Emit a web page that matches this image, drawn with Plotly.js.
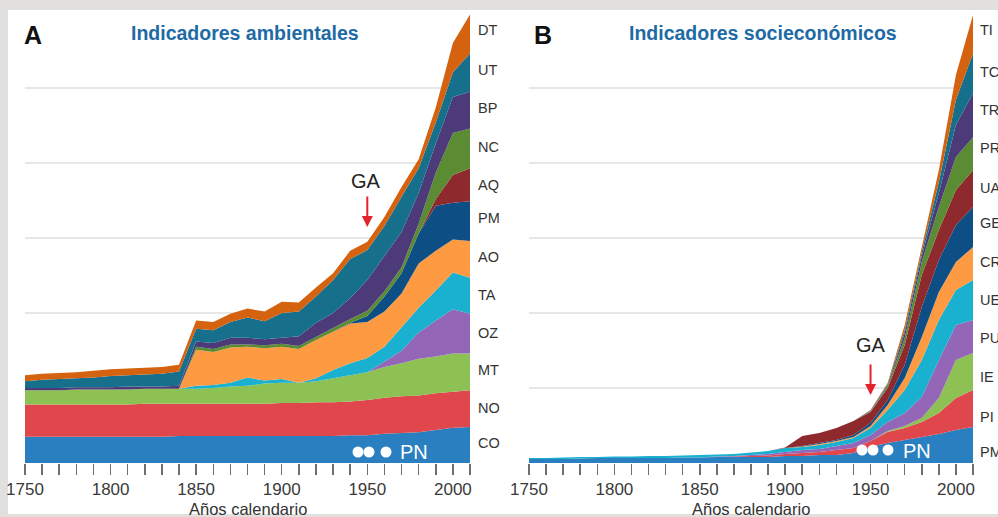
<!DOCTYPE html>
<html><head><meta charset="utf-8">
<script src="https://cdn.plot.ly/plotly-3.0.1.min.js"></script>
<style>html,body{margin:0;padding:0;background:#e2e0de;}#chart{width:998px;height:517px;}</style>
</head><body><div id="chart"></div>
<script>
// ---------- DATA ----------
const years = [1750,1760,1770,1780,1790,1800,1810,1820,1830,1840,1850,1860,1870,1880,1890,1900,1910,1920,1930,1940,1950,1960,1970,1980,1990,2000,2010];
const tickYears = [1750,1760,1770,1780,1790,1800,1810,1820,1830,1840,1850,1860,1870,1880,1890,1900,1910,1920,1930,1940,1950,1960,1970,1980,1990,2000,2010];
const tickLabels = ['1750','','','','','1800','','','','','1850','','','','','1900','','','','','1950','','','','','2000',''];

// Panel A: Indicadores ambientales (stacked, bottom to top)
const namesA = ['CO','NO','MT','OZ','TA','AO','PM','AQ','NC','BP','UT','DT'];
const A_CO = [0.35,0.35,0.35,0.35,0.35,0.35,0.35,0.35,0.35,0.36,0.36,0.36,0.36,0.36,0.36,0.36,0.36,0.36,0.36,0.37,0.37,0.39,0.40,0.41,0.44,0.47,0.48];
const A_NO = [0.43,0.43,0.43,0.43,0.43,0.43,0.43,0.44,0.44,0.43,0.43,0.43,0.43,0.43,0.43,0.44,0.44,0.45,0.45,0.45,0.47,0.48,0.49,0.49,0.49,0.48,0.49];
const A_MT = [0.19,0.19,0.19,0.20,0.20,0.20,0.20,0.20,0.20,0.20,0.20,0.21,0.23,0.24,0.27,0.27,0.27,0.28,0.32,0.35,0.37,0.41,0.44,0.49,0.49,0.51,0.49];
const A_OZ = [0,0,0,0,0,0,0,0,0,0,0,0,0,0,0,0,0,0,0,0,0,0.07,0.17,0.35,0.48,0.59,0.53];
const A_TA = [0,0,0,0,0,0,0,0,0,0,0.04,0.04,0.05,0.11,0.04,0.05,0,0.04,0.11,0.16,0.19,0.20,0.31,0.33,0.40,0.49,0.48];
const A_AO = [0,0,0,0,0,0,0,0,0,0,0.48,0.44,0.47,0.41,0.43,0.43,0.45,0.51,0.51,0.53,0.48,0.47,0.45,0.59,0.53,0.44,0.49];
const A_PM = [0,0,0,0,0,0,0,0,0,0,0,0,0,0,0,0,0,0,0,0.01,0.08,0.20,0.27,0.40,0.60,0.49,0.53];
const A_AQ = [0,0,0,0,0,0,0,0,0,0,0,0,0,0,0,0,0,0,0,0,0,0,0,0,0.09,0.37,0.44];
const A_NC = [0,0,0,0,0,0,0,0,0,0,0.04,0.04,0.04,0.03,0.04,0.04,0.04,0.04,0.05,0.05,0.07,0.07,0.08,0.13,0.35,0.56,0.53];
const A_BP = [0.03,0.03,0.03,0.03,0.03,0.03,0.04,0.03,0.03,0.04,0.07,0.08,0.09,0.09,0.08,0.08,0.13,0.19,0.20,0.28,0.41,0.47,0.47,0.41,0.39,0.48,0.49];
const A_UT = [0.09,0.11,0.12,0.12,0.13,0.15,0.15,0.16,0.17,0.19,0.17,0.17,0.21,0.27,0.24,0.33,0.33,0.35,0.44,0.52,0.40,0.40,0.47,0.33,0.28,0.33,0.51];
const A_DT = [0.08,0.08,0.08,0.08,0.09,0.09,0.09,0.09,0.09,0.09,0.11,0.11,0.11,0.12,0.13,0.15,0.12,0.12,0.09,0.11,0.11,0.12,0.13,0.12,0.20,0.39,0.52];

// Panel B: Indicadores socioeconómicos (stacked, bottom to top)
const namesB = ['PM','PI','IE','PU','UE','CR','GE','UA','PR','TR','TC','TI'];
const B_PM = [0.053,0.053,0.053,0.06,0.067,0.067,0.067,0.067,0.067,0.073,0.073,0.08,0.08,0.08,0.08,0.093,0.093,0.107,0.107,0.133,0.213,0.267,0.307,0.347,0.387,0.44,0.48];
const B_PI = [0,0,0,0,0,0,0,0,0,0,0,0,0.007,0.013,0.02,0.027,0.04,0.04,0.067,0.067,0.08,0.147,0.16,0.2,0.28,0.427,0.493];
const B_IE = [0,0,0,0,0,0,0,0,0,0,0,0,0,0,0,0,0,0,0,0,0,0.013,0.027,0.053,0.2,0.507,0.493];
const B_PU = [0,0,0,0,0,0,0,0,0,0,0,0.007,0.007,0.013,0.02,0.027,0.04,0.04,0.053,0.067,0.08,0.12,0.173,0.28,0.507,0.467,0.44];
const B_UE = [0.013,0.013,0.02,0.02,0.013,0.02,0.02,0.027,0.027,0.027,0.033,0.027,0.027,0.033,0.04,0.053,0.04,0.053,0.053,0.067,0.093,0.16,0.307,0.493,0.533,0.467,0.533];
const B_CR = [0,0,0,0,0,0,0,0,0,0,0,0,0,0,0,0,0.007,0.013,0.013,0.013,0.027,0.067,0.16,0.307,0.373,0.373,0.44];
const B_GE = [0,0,0,0,0,0,0,0,0,0,0,0,0,0,0,0,0.007,0.013,0.013,0.027,0.04,0.067,0.173,0.4,0.427,0.493,0.533];
const B_UA = [0,0,0,0,0,0,0,0,0,0,0,0,0,0,0,0.007,0.133,0.133,0.16,0.187,0.147,0.16,0.267,0.427,0.4,0.467,0.493];
const B_PR = [0,0,0,0,0,0,0,0,0,0,0,0,0,0,0,0,0,0,0,0,0.007,0.027,0.093,0.173,0.307,0.44,0.44];
const B_TR = [0,0,0,0,0,0,0,0,0,0,0,0,0,0,0,0,0,0,0,0,0.007,0.013,0.067,0.08,0.187,0.427,0.587];
const B_TC = [0,0,0,0,0,0,0,0,0,0,0,0,0,0,0,0,0,0,0,0,0.007,0.013,0.04,0.053,0.147,0.333,0.533];
const B_TI = [0,0,0,0,0,0,0,0,0,0,0,0,0,0,0,0,0,0,0,0,0.007,0.013,0.067,0.067,0.16,0.333,0.507];

// ---------- STYLE ----------
const colors = ['#2a7fc1','#e0474c','#8dc153','#9466b8','#1ab0d0','#fd9a42','#0d4f85','#8e2a2e','#5b8b32','#4c3b78','#16708c','#d4620f'];
const seriesA = [A_CO,A_NO,A_MT,A_OZ,A_TA,A_AO,A_PM,A_AQ,A_NC,A_BP,A_UT,A_DT];
const seriesB = [B_PM,B_PI,B_IE,B_PU,B_UE,B_CR,B_GE,B_UA,B_PR,B_TR,B_TC,B_TI];
const FONT = 'Liberation Sans, Arial, Helvetica, sans-serif';
const W = 998, H = 517;
const PX = x => x / W, PY = y => 1 - y / H;

const traces = [];
seriesA.forEach((v,i) => traces.push({type:'scatter', x:years, y:v, name:namesA[i], stackgroup:'a', mode:'none',
  fillcolor:colors[i], line:{width:0}, xaxis:'x', yaxis:'y', hoverinfo:'skip', showlegend:false}));
seriesB.forEach((v,i) => traces.push({type:'scatter', x:years, y:v, name:namesB[i], stackgroup:'b', mode:'none',
  fillcolor:colors[i], line:{width:0}, xaxis:'x2', yaxis:'y2', hoverinfo:'skip', showlegend:false}));

const xAxisBase = {range:[1750,2010], tickmode:'array', tickvals:tickYears, ticktext:tickLabels,
  ticks:'outside', ticklen:11, tickwidth:1.5, tickcolor:'#6f6f6f', showgrid:false, zeroline:false, showline:false,
  tickfont:{family:FONT, size:17, color:'#3a3a3a'}, ticklabelstandoff:0, fixedrange:true};
const yAxisBase = {range:[0,6], tickmode:'linear', tick0:0, dtick:1, showticklabels:false, ticks:'',
  showgrid:true, gridcolor:'#e7e7e7', gridwidth:1.5, zeroline:false, showline:false, fixedrange:true,
  domain:[PY(463), PY(13)]};

const ann = [];
function txt(text, x, y, size, color, extra) {
  ann.push(Object.assign({text, x:PX(x), y:PY(y), xref:'paper', yref:'paper', showarrow:false,
    font:{family:FONT, size, color}, xanchor:'center', yanchor:'middle'}, extra||{}));
}
txt('<b>A</b>', 33, 35, 25, '#111');
txt('<b>Indicadores ambientales</b>', 245, 33, 19.5, '#1d6aa5');
txt('<b>B</b>', 543, 35, 25, '#111');
txt('<b>Indicadores socieconómicos</b>', 763, 33, 19.5, '#1d6aa5');
txt('Años calendario', 247.5, 517, 16.5, '#333', {yanchor:'bottom', yshift:-3});
txt('Años calendario', 751, 517, 16.5, '#333', {yanchor:'bottom', yshift:-3});

const labelYA = [443,408,370,333,295,257,218,185,147,108,70,30];
namesA.forEach((n,i) => txt(n, 476, labelYA[i], 14.5, '#333', {xanchor:'left'}));
const labelYB = [452,417,377,338,300,262,223,188,148,110,72,30];
namesB.forEach((n,i) => txt(n, 978, labelYB[i], 14.5, '#333', {xanchor:'left'}));

// GA markers
txt('GA', 366, 181, 20, '#222');
txt('GA', 871, 345, 20, '#222');
ann.push({x:1950, y:(463-227)/75, xref:'x', yref:'y', ax:0, ay:-32, text:'', showarrow:true,
  arrowhead:2, arrowsize:1.1, arrowwidth:2, arrowcolor:'#e4242c'});
ann.push({x:1950, y:(463-395)/75, xref:'x2', yref:'y2', ax:0, ay:-32, text:'', showarrow:true,
  arrowhead:2, arrowsize:1.1, arrowwidth:2, arrowcolor:'#e4242c'});

// PN markers (white dots + label)
txt('PN', 414, 452, 20, '#ffffff');
txt('PN', 917, 451, 20, '#ffffff');
const dotShapes = [[358,452],[369,452],[386,452],[862,450],[873,450],[888,450]].map(p => ({
  type:'circle', xref:'paper', yref:'paper', xsizemode:'pixel', ysizemode:'pixel',
  xanchor:PX(p[0]), yanchor:PY(p[1]), x0:-5.5, x1:5.5, y0:-5.5, y1:5.5,
  fillcolor:'#ffffff', line:{width:0}, layer:'above'}));

const layout = {
  width:W, height:H, margin:{l:0,r:0,t:0,b:0,pad:0},
  paper_bgcolor:'#e2e0de', plot_bgcolor:'rgba(0,0,0,0)',
  showlegend:false,
  xaxis:Object.assign({}, xAxisBase, {domain:[PX(25), PX(470)], anchor:'y'}),
  yaxis:Object.assign({}, yAxisBase, {anchor:'x'}),
  xaxis2:Object.assign({}, xAxisBase, {domain:[PX(529), PX(973)], anchor:'y2'}),
  yaxis2:Object.assign({}, yAxisBase, {anchor:'x2'}),
  shapes:[{type:'rect', xref:'paper', yref:'paper', x0:PX(8), x1:1, y0:PY(514), y1:PY(10),
    fillcolor:'#ffffff', line:{width:0}, layer:'below'}].concat(dotShapes),
  annotations:ann
};
Plotly.newPlot('chart', traces, layout, {staticPlot:true, displayModeBar:false});
</script></body></html>
